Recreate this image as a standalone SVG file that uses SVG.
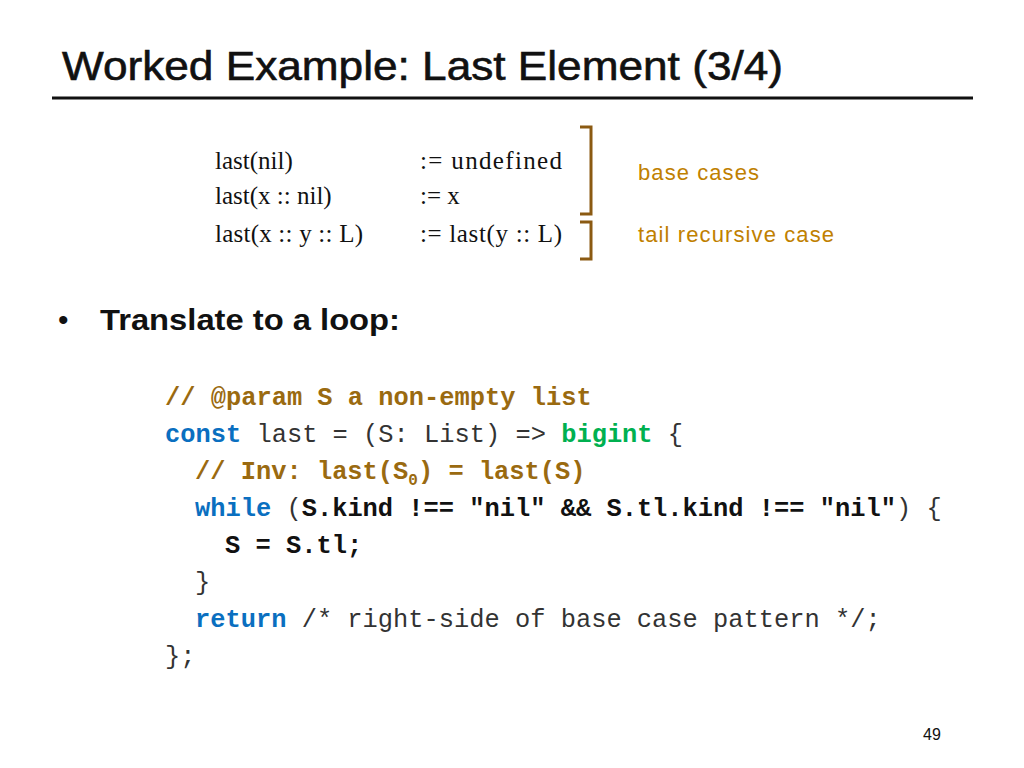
<svg xmlns="http://www.w3.org/2000/svg" width="1024" height="768" viewBox="0 0 1024 768">
<style>
.t{font-family:"Liberation Sans",Arial,sans-serif}
.m{font-family:"Liberation Serif","Times New Roman",serif;font-size:25px;fill:#111}
.c{font-family:"Liberation Mono","Courier New",monospace;font-size:25.4px;fill:#333}
.b{font-weight:bold}
.br{fill:#9A6A10}
.bl{fill:#0A6FC0;font-weight:bold}
.gr{fill:#00B050;font-weight:bold}
.k{fill:#111;font-weight:bold}
.lab{font-family:"Liberation Sans",Arial,sans-serif;font-size:22px;fill:#C08000}
</style>
<rect width="1024" height="768" fill="#fff"/>
<text class="t" x="62" y="80" font-size="40" textLength="721" lengthAdjust="spacingAndGlyphs" fill="#111" stroke="#111" stroke-width="0.6">Worked Example: Last Element (3/4)</text>
<line x1="52" y1="98" x2="973" y2="98" stroke="#111" stroke-width="3"/>
<g id="equations">
<text class="m" x="215" y="169">last(nil)</text><text class="m" x="420" y="169" textLength="142">:= undefined</text>
<text class="m" x="215" y="204">last(x :: nil)</text><text class="m" x="420" y="204">:= x</text>
<text class="m" x="215" y="242" textLength="148">last(x :: y :: L)</text><text class="m" x="420" y="242" textLength="142">:= last(y :: L)</text>
</g>
<g fill="none" stroke="#8B5A12" stroke-width="3">
<path d="M580,127 H591 V214 H580"/>
<path d="M580,222 H591 V259 H580"/>
</g>
<text class="lab" x="638" y="180" textLength="121">base cases</text>
<text class="lab" x="638" y="242" textLength="196">tail recursive case</text>
<text class="t" x="58" y="330" font-size="30" fill="#111">•</text>
<text class="t" x="100" y="330" font-size="30" font-weight="bold" textLength="300" lengthAdjust="spacingAndGlyphs" fill="#111">Translate to a loop:</text>
<g id="code">
<text class="c b br" x="165" y="405">// @param S a non-empty list</text>
<text class="c" x="165" y="442"><tspan class="bl">const</tspan> last = (S: List) =&gt; <tspan class="gr">bigint</tspan> {</text>
<text class="c b br" x="195" y="479">// Inv: last(S<tspan font-size="16" dy="6">0</tspan><tspan dy="-6">) = last(S)</tspan></text>
<text class="c" x="195" y="516"><tspan class="bl">while</tspan> (<tspan class="k">S.kind !== "nil" &amp;&amp; S.tl.kind !== "nil"</tspan>) {</text>
<text class="c k" x="225" y="553">S = S.tl;</text>
<text class="c" x="195" y="590">}</text>
<text class="c" x="195" y="627"><tspan class="bl">return</tspan> /* right-side of base case pattern */;</text>
<text class="c" x="165" y="664">};</text>
</g>
<text class="t" x="923" y="740" font-size="16" fill="#111">49</text>
</svg>
